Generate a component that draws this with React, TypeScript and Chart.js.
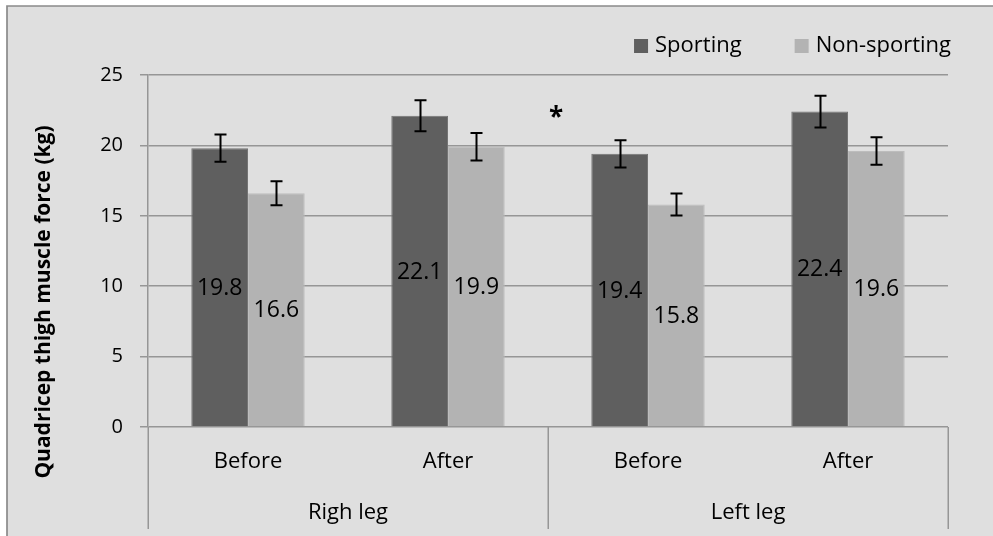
import React, { useEffect, useRef } from "react";
import { Chart, registerables } from "chart.js";

Chart.register(...registerables);

const categories = ["Before", "After", "Before", "After"];
const groups = ["Righ leg", "Left leg"];
const groupSpans = [2, 2];
const seriesNames = ["Sporting", "Non-sporting"];
const sporting = [19.8, 22.1, 19.4, 22.4];
const nonSporting = [16.6, 19.9, 15.8, 19.6];
const sportingErr = [0.97, 1.1, 0.97, 1.13];
const nonSportingErr = [0.85, 0.98, 0.78, 0.98];
const yTicks = [0, 5, 10, 15, 20, 25];
const yTitle = "Quadricep thigh muscle force (kg)";
const significance = { label: "*", x: 1.54, y: 22.3 };

const W = 993;
const H = 536;
const FONT = "'Open Sans', sans-serif";
const DARK = "#5f5f5f";
const LIGHT = "#b3b3b3";
const BG = "#dfdfdf";
const GRID = "#969696";

const errorsByDataset = [sportingErr, nonSportingErr];

const decorPlugin = {
  id: "decor",
  beforeDraw(chart: any) {
    const { ctx } = chart;
    ctx.save();
    ctx.fillStyle = "#ffffff";
    ctx.fillRect(0, 0, W, H);
    ctx.fillStyle = BG;
    ctx.fillRect(7, 6, W - 7, H - 6);
    ctx.strokeStyle = "#8a8a8a";
    ctx.lineWidth = 1.7;
    ctx.beginPath();
    ctx.moveTo(7, H);
    ctx.lineTo(7, 6);
    ctx.lineTo(W, 6);
    ctx.stroke();
    ctx.restore();
  },
  afterDraw(chart: any) {
    const { ctx, chartArea } = chart;
    const xs = chart.scales.x;
    const ys = chart.scales.y;
    ctx.save();

    // multi-level category axis separators
    const bottom = xs.top + 102;
    const n = categories.length;
    const catW = (chartArea.right - chartArea.left) / n;
    ctx.strokeStyle = GRID;
    ctx.lineWidth = 1.5;
    let idx = 0;
    const bounds = [0];
    groupSpans.forEach((s) => {
      idx += s;
      bounds.push(idx);
    });
    bounds.forEach((b) => {
      const x = Math.round(chartArea.left + b * catW) + 0.25;
      ctx.beginPath();
      ctx.moveTo(x, xs.top);
      ctx.lineTo(x, bottom);
      ctx.stroke();
    });

    // labels
    ctx.fillStyle = "#000";
    ctx.textAlign = "center";
    ctx.textBaseline = "middle";
    ctx.font = `22px ${FONT}`;
    categories.forEach((c, i) => {
      ctx.fillText(c, xs.getPixelForValue(i), xs.top + 35);
    });
    let start = 0;
    groups.forEach((g, gi) => {
      const span = groupSpans[gi];
      const cx = chartArea.left + (start + span / 2) * catW;
      ctx.fillText(g, cx, xs.top + 86);
      start += span;
    });

    // error bars
    chart.data.datasets.forEach((ds: any, di: number) => {
      const meta = chart.getDatasetMeta(di);
      const errs = errorsByDataset[di];
      meta.data.forEach((bar: any, i: number) => {
        const v = ds.data[i];
        const e = errs[i];
        const yTop = ys.getPixelForValue(v + e);
        const yBot = ys.getPixelForValue(v - e);
        const x = Math.round(bar.x) + 0.5;
        ctx.strokeStyle = "#000";
        ctx.lineWidth = 2;
        ctx.beginPath();
        ctx.moveTo(x, yTop);
        ctx.lineTo(x, yBot);
        ctx.moveTo(x - 6, yTop);
        ctx.lineTo(x + 6, yTop);
        ctx.moveTo(x - 6, yBot);
        ctx.lineTo(x + 6, yBot);
        ctx.stroke();
      });
    });

    // data labels
    ctx.font = `23px ${FONT}`;
    ctx.fillStyle = "#000";
    chart.data.datasets.forEach((ds: any, di: number) => {
      const meta = chart.getDatasetMeta(di);
      meta.data.forEach((bar: any, i: number) => {
        const v = ds.data[i];
        const y = (bar.y + bar.base) / 2;
        ctx.fillText(v.toFixed(1), bar.x, y + 1);
      });
    });

    // y title
    ctx.save();
    ctx.font = `bold 21px ${FONT}`;
    ctx.translate(44, (chartArea.top + bottom) / 2);
    ctx.rotate(-Math.PI / 2);
    ctx.fillText(yTitle, 0, 0);
    ctx.restore();

    // significance marker
    ctx.font = `bold 26px ${FONT}`;
    ctx.fillText(
      significance.label,
      xs.getPixelForValue(significance.x),
      ys.getPixelForValue(significance.y) + 6
    );

    // legend
    ctx.font = `22px ${FONT}`;
    ctx.textAlign = "left";
    const colors = [DARK, LIGHT];
    const boxSize = 14;
    const gapBoxText = 7;
    const itemGap = 53;
    const widths = seriesNames.map((s) => ctx.measureText(s).width);
    const total =
      widths.reduce((a, b) => a + b, 0) +
      seriesNames.length * (boxSize + gapBoxText) +
      itemGap * (seriesNames.length - 1);
    let lx = 951 - total;
    const ly = 46;
    seriesNames.forEach((s, i) => {
      ctx.fillStyle = colors[i];
      ctx.fillRect(lx, ly - boxSize / 2, boxSize, boxSize);
      ctx.fillStyle = "#000";
      ctx.fillText(s, lx + boxSize + gapBoxText, ly);
      lx += boxSize + gapBoxText + widths[i] + itemGap;
    });

    ctx.restore();
  },
};

export default function App() {
  const ref = useRef<HTMLCanvasElement>(null);

  useEffect(() => {
    if (!ref.current) return;
    const chart = new Chart(ref.current, {
      type: "bar",
      data: {
        labels: categories,
        datasets: [
          {
            label: seriesNames[0],
            data: sporting,
            backgroundColor: DARK,
            borderColor: "#747474",
            borderWidth: 1,
            categoryPercentage: 0.567,
            barPercentage: 1,
          },
          {
            label: seriesNames[1],
            data: nonSporting,
            backgroundColor: LIGHT,
            borderColor: "#bdbdbd",
            borderWidth: 1,
            categoryPercentage: 0.567,
            barPercentage: 1,
          },
        ],
      },
      options: {
        responsive: false,
        animation: false,
        devicePixelRatio: 1,
        layout: { padding: { top: 75, right: 45, left: 0, bottom: 0 } },
        plugins: {
          legend: { display: false },
          tooltip: { enabled: false },
          title: { display: false },
        },
        scales: {
          x: {
            ticks: { display: false },
            grid: { display: false },
            border: { display: false },
            afterFit(scale: any) {
              scale.height = H - 427;
            },
          },
          y: {
            min: yTicks[0],
            max: yTicks[yTicks.length - 1],
            afterBuildTicks(scale: any) {
              scale.ticks = yTicks.map((v) => ({ value: v }));
            },
            ticks: {
              padding: 17,
              color: "#000",
              font: { family: FONT, size: 20 },
            },
            grid: {
              color: GRID,
              lineWidth: 1.5,
              tickLength: 8,
              drawTicks: true,
            },
            border: { display: true, color: GRID, width: 1.5 },
            afterFit(scale: any) {
              scale.width = 148;
            },
          },
        },
      },
      plugins: [decorPlugin],
    });
    return () => chart.destroy();
  }, []);

  return (
    <div style={{ position: "fixed", left: 0, top: 0, width: W, height: H }}>
      <canvas ref={ref} width={W} height={H} style={{ width: W, height: H }} />
    </div>
  );
}
